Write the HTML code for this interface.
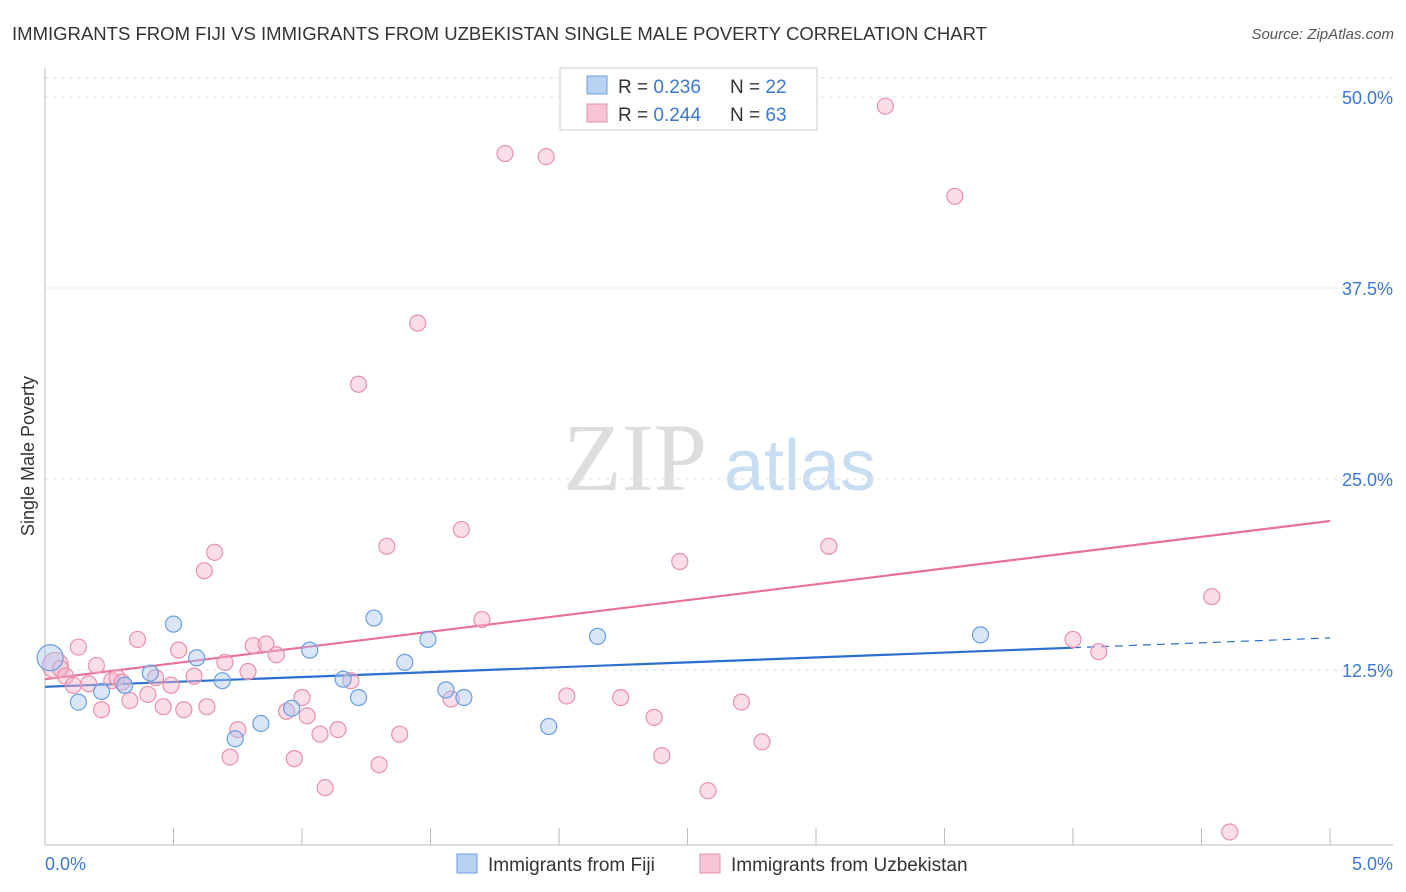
<!DOCTYPE html>
<html><head><meta charset="utf-8"><style>
body{margin:0;background:#fff;font-family:"Liberation Sans",sans-serif;}
svg{display:block}
</style></head><body>
<svg id="chart" width="1406" height="892">
<text x="12" y="40" font-size="18" fill="#333" textLength="975" lengthAdjust="spacingAndGlyphs">IMMIGRANTS FROM FIJI VS IMMIGRANTS FROM UZBEKISTAN SINGLE MALE POVERTY CORRELATION CHART</text>
<text x="1394" y="39" font-size="15" fill="#555" font-style="italic" text-anchor="end">Source: ZipAtlas.com</text>
<text transform="translate(34,456) rotate(-90)" font-size="18" fill="#333" text-anchor="middle">Single Male Poverty</text>
<g><text x="635" y="490" font-size="96" font-family="Liberation Serif" fill="#ddd" text-anchor="middle">ZIP</text><text x="800" y="490" font-size="72" fill="#c8dcf2" text-anchor="middle">atlas</text></g>
<g id="grid"></g><g id="axes"></g><g id="lines"></g><g id="points"></g>
<g>
<rect x="560" y="68" width="257" height="62" fill="#fff" stroke="#ccc"/>
<rect x="587" y="76" width="20" height="18" fill="#b8d2f4" stroke="#6a9ee0"/>
<text x="618" y="93" font-size="19" fill="#333">R = <tspan fill="#3a78d4">0.236</tspan></text>
<text x="730" y="93" font-size="19" fill="#333">N = <tspan fill="#3a78d4">22</tspan></text>
<rect x="587" y="104" width="20" height="18" fill="#f8c4d4" stroke="#e890ac"/>
<text x="618" y="121" font-size="19" fill="#333">R = <tspan fill="#3a78d4">0.244</tspan></text>
<text x="730" y="121" font-size="19" fill="#333">N = <tspan fill="#3a78d4">63</tspan></text>
</g>
<g>
<rect x="457" y="854" width="20" height="19" fill="#b8d2f4" stroke="#6a9ee0"/>
<text x="488" y="871" font-size="19" fill="#333">Immigrants from Fiji</text>
<rect x="700" y="854" width="20" height="19" fill="#f8c4d4" stroke="#e890ac"/>
<text x="731" y="871" font-size="19" fill="#333">Immigrants from Uzbekistan</text>
</g>
</svg>
<script>
const yTicks=[12.5,25,37.5,50];
const yTickLabels=["12.5%","25.0%","37.5%","50.0%"];
const xTicks=[0,0.5,1,1.5,2,2.5,3,3.5,4,4.5,5];
const fijiX=[0.02,0.13,0.22,0.31,0.41,0.50,0.59,0.69,0.74,0.84,0.96,1.03,1.16,1.22,1.28,1.40,1.49,1.56,1.63,1.96,2.15,3.64];
const fijiY=[13.3,10.4,11.1,11.5,12.3,15.5,13.3,11.8,8.0,9.0,10.0,13.8,11.9,10.7,15.9,13.0,14.5,11.2,10.7,8.8,14.7,14.8];
const uzbX=[0.04,0.06,0.08,0.11,0.13,0.17,0.20,0.22,0.26,0.28,0.30,0.33,0.36,0.40,0.43,0.46,0.49,0.52,0.54,0.58,0.62,0.63,0.66,0.70,0.72,0.75,0.79,0.81,0.86,0.90,0.94,0.97,1.00,1.02,1.07,1.09,1.14,1.19,1.22,1.30,1.33,1.38,1.45,1.58,1.62,1.70,1.79,1.95,2.03,2.24,2.37,2.40,2.47,2.58,2.71,2.79,3.05,3.27,3.54,4.00,4.10,4.54,4.61];
const uzbY=[12.8,12.6,12.1,11.5,14.0,11.6,12.8,9.9,11.8,12.0,11.7,10.5,14.5,10.9,12.0,10.1,11.5,13.8,9.9,12.1,19.0,10.1,20.2,13.0,6.8,8.6,12.4,14.1,14.2,13.5,9.8,6.7,10.7,9.5,8.3,4.8,8.6,11.8,31.2,6.3,20.6,8.3,35.2,10.6,21.7,15.8,46.3,46.1,10.8,10.7,9.4,6.9,19.6,4.6,10.4,7.8,20.6,49.4,43.5,14.5,13.7,17.3,1.9];
const fijiTrend=[11.4,14.6];
const uzbTrend=[11.9,22.25];
const NS="http://www.w3.org/2000/svg";
const X=v=>45+v*257;
const Y=v=>861-v*15.28;
function mk(tag,attrs,parent){const e=document.createElementNS(NS,tag);for(const k in attrs)e.setAttribute(k,attrs[k]);document.getElementById(parent).appendChild(e);return e;}
const g0=mk('line',{x1:45,x2:1393,y1:78,y2:78,stroke:'#ddd','stroke-dasharray':'4,4'},'grid');


yTicks.forEach((t,i)=>{
 const l=mk('line',{x1:45,x2:1393,y1:Y(t),y2:Y(t),stroke:'#e2e2e2','stroke-dasharray':'4,4'},'grid');
 
 
 const tx=mk('text',{x:1393,y:Y(t)+7,'font-size':18,fill:'#3a78d4','text-anchor':'end'},'grid');
 tx.textContent=yTickLabels[i];
 
 
});
const ax=mk('line',{x1:45,x2:45,y1:68,y2:845,stroke:'#bbb'},'axes');


const bx=mk('line',{x1:45,x2:1393,y1:845,y2:845,stroke:'#bbb'},'axes');


xTicks.forEach(t=>{
 const l=mk('line',{x1:X(t),x2:X(t),y1:828,y2:845,stroke:'#bbb'},'axes');
 
 
});
const xl0=mk('text',{x:45,y:870,'font-size':18,fill:'#3a78d4'},'axes');xl0.textContent='0.0%';


const xl1=mk('text',{x:1393,y:870,'font-size':18,fill:'#3a78d4','text-anchor':'end'},'axes');xl1.textContent='5.0%';


function pt(x,y,r,fill,stroke,name){
 const c=mk('circle',{cx:X(x),cy:Y(y),r:r,fill:fill,stroke:stroke,'stroke-width':1.2},'points');
 
 
}
uzbX.forEach((x,i)=>pt(x,uzbY[i],i==0?13:8,'rgba(245,180,202,0.45)','#e890ac','uzbekistan-point'));
fijiX.forEach((x,i)=>pt(x,fijiY[i],i==0?13:8,'rgba(168,200,240,0.45)','#6a9ee0','fiji-point'));
const fEnd=4.0,fYe=fijiTrend[0]+(fijiTrend[1]-fijiTrend[0])*fEnd/5;
const fl=mk('line',{x1:X(0),y1:Y(fijiTrend[0]),x2:X(fEnd),y2:Y(fYe),stroke:'#2d6fd0','stroke-width':2.2},'lines');


const fd=mk('line',{x1:X(fEnd),y1:Y(fYe),x2:X(5),y2:Y(fijiTrend[1]),stroke:'#2d6fd0','stroke-width':1.2,'stroke-dasharray':'8,6'},'lines');


const ul=mk('line',{x1:X(0),y1:Y(uzbTrend[0]),x2:X(5),y2:Y(uzbTrend[1]),stroke:'#e8709a','stroke-width':2.2},'lines');


</script>
</body></html>
